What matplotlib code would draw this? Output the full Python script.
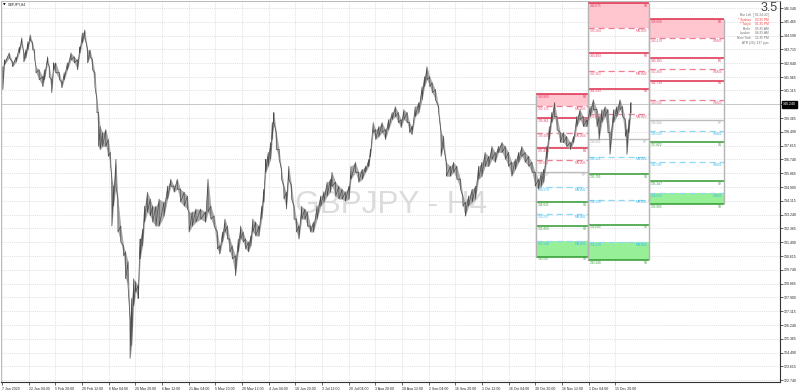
import matplotlib
matplotlib.use("Agg")
import matplotlib.pyplot as plt

# --- price path (H4 bar number, high, low) ---
bars = [2, 6, 18, 26, 35, 43, 49, 54, 59, 64,
        70, 76, 80, 84, 92, 101, 105, 113, 117, 123,
        128, 133, 142, 148, 154, 162, 171, 179, 187, 193,
        199, 205, 212, 218, 224, 230, 235, 239, 243, 249,
        257, 263, 268, 272, 276, 282, 287, 294, 301, 306,
        312, 317, 321, 326, 331, 337, 342, 348, 353, 360,
        367, 373, 381, 389, 401, 410, 418, 426, 434, 442,
        451, 459, 463, 471, 480, 492, 504, 510, 517, 525,
        533, 539, 546, 552, 558, 564, 570, 578, 585, 591,
        597, 603, 610, 616, 621, 628, 636, 643, 648, 653,
        659, 665, 669, 673, 679, 686, 692, 698, 704, 710,
        717, 723, 729, 735, 742, 750, 756, 764, 771, 780,
        789, 797, 805, 813, 817, 826, 834, 842, 850, 859,
        864, 875, 883, 892, 900, 908, 912, 919, 925, 933,
        941, 949, 957, 966, 974, 981, 988, 995, 1003, 1009,
        1015, 1023, 1032, 1040, 1046, 1052, 1059, 1065, 1073, 1081,
        1087, 1093, 1100, 1110, 1118, 1126, 1135, 1141, 1147, 1155,
        1164, 1172, 1180, 1188, 1196, 1205, 1213, 1221, 1229, 1238,
        1246, 1254, 1262, 1271, 1279, 1287, 1295, 1304, 1312, 1320,
        1328, 1335, 1341, 1349, 1355, 1361, 1368, 1374, 1382, 1390,
        1398, 1407, 1415, 1423, 1431, 1439, 1448, 1456, 1464, 1473,
        1478, 1485, 1493, 1500, 1505, 1514, 1522, 1530, 1536, 1543,
        1547, 1552, 1557]

highs = [142.62, 143.06, 143.50, 142.93, 143.25, 143.88, 144.45, 143.50, 143.69, 144.20,
         144.64, 144.13, 143.69, 142.62, 142.43, 141.99, 142.43, 143.25, 142.62, 141.80,
         142.87, 142.87, 142.24, 141.67, 142.24, 142.87, 143.50, 143.25, 143.06, 143.88,
         144.76, 144.95, 143.69, 143.69, 143.06, 142.24, 140.53, 139.72, 138.83, 138.45,
         138.64, 138.01, 137.19, 135.49, 135.05, 136.75, 134.23, 132.52, 131.26, 130.88,
         130.25, 126.65, 127.92, 129.18, 128.99, 128.74, 131.70, 132.33, 133.78, 134.67,
         134.23, 133.78, 133.78, 134.23, 134.04, 135.05, 135.49, 135.05, 135.49, 134.86,
         134.67, 134.42, 133.41, 133.41, 133.60, 133.60, 133.41, 135.49, 133.78, 133.15,
         132.14, 131.26, 132.14, 132.96, 132.52, 131.70, 131.26, 130.63, 131.70, 132.52,
         132.14, 131.70, 131.51, 131.89, 132.96, 132.77, 132.52, 133.78, 134.86, 136.75,
         137.19, 137.82, 139.08, 139.72, 138.45, 137.38, 136.12, 135.05, 134.67, 136.31,
         135.05, 133.78, 132.96, 132.52, 133.78, 133.60, 133.41, 132.52, 132.77, 133.78,
         134.42, 134.67, 135.30, 135.49, 135.93, 135.30, 135.05, 134.86, 134.67, 135.05,
         136.31, 136.56, 135.93, 136.12, 136.31, 136.75, 137.38, 139.08, 138.64, 138.83,
         139.08, 138.64, 139.27, 139.72, 140.09, 139.72, 139.27, 139.90, 139.72, 139.08,
         138.83, 140.09, 140.35, 141.36, 141.99, 142.62, 141.99, 141.61, 141.17, 140.09,
         138.45, 138.20, 136.56, 136.31, 136.56, 136.31, 135.49, 134.42, 134.04, 134.42,
         134.86, 135.05, 136.31, 136.56, 137.19, 136.94, 137.57, 137.19, 137.57, 137.82,
         137.57, 137.19, 136.56, 136.75, 137.19, 137.57, 137.19, 136.94, 136.56, 135.93,
         135.49, 135.93, 136.12, 137.57, 138.83, 139.72, 140.35, 139.46, 138.45, 138.45,
         138.20, 137.82, 138.20, 139.46, 139.90, 139.46, 139.27, 140.09, 140.53, 139.90,
         139.46, 139.90, 140.09, 139.90, 138.45, 139.90, 140.09, 140.53, 140.09, 139.27,
         138.64, 139.27, 140.35]

lows = [141.17, 142.74, 143.19, 142.62, 142.93, 143.50, 144.13, 142.93, 143.19, 143.69,
        144.32, 143.69, 143.25, 142.24, 141.80, 141.36, 141.80, 142.87, 141.99, 140.98,
        142.43, 142.24, 141.80, 141.29, 141.80, 142.43, 143.06, 142.87, 142.43, 143.50,
        144.13, 144.51, 142.87, 143.25, 142.43, 141.36, 139.72, 137.57, 137.38, 137.57,
        137.57, 136.94, 136.56, 132.52, 133.78, 135.05, 132.14, 131.51, 130.63, 129.18,
        128.74, 124.13, 124.95, 127.47, 128.36, 127.92, 130.44, 131.26, 132.77, 133.41,
        133.15, 132.77, 132.52, 132.52, 133.15, 134.23, 135.05, 134.67, 134.86, 134.04,
        133.78, 133.60, 132.14, 132.52, 132.77, 132.96, 132.77, 133.41, 132.96, 132.52,
        131.07, 130.75, 131.51, 132.14, 131.70, 130.88, 130.44, 129.37, 130.88, 131.70,
        131.51, 131.07, 130.88, 131.26, 132.14, 131.89, 131.89, 132.96, 134.04, 135.93,
        136.31, 136.75, 138.01, 139.08, 137.38, 136.75, 135.49, 134.23, 133.60, 135.49,
        134.23, 132.96, 132.14, 131.70, 132.96, 132.96, 132.52, 132.14, 132.14, 132.96,
        133.78, 134.04, 134.42, 134.67, 135.05, 134.42, 134.23, 134.23, 134.10, 134.23,
        135.49, 135.93, 135.30, 135.49, 135.93, 136.31, 136.94, 138.45, 138.01, 138.20,
        138.45, 138.01, 138.64, 139.27, 139.46, 139.08, 138.77, 139.27, 139.08, 138.45,
        138.33, 139.46, 139.72, 140.53, 141.36, 141.80, 141.36, 140.98, 140.53, 139.72,
        136.94, 137.57, 135.68, 135.68, 135.93, 135.49, 134.86, 133.78, 133.15, 133.78,
        134.04, 134.23, 135.49, 135.68, 136.31, 136.31, 136.75, 136.56, 137.19, 137.19,
        136.75, 136.31, 135.68, 136.12, 136.56, 136.94, 136.56, 136.31, 135.93, 135.05,
        134.86, 135.05, 135.30, 136.75, 138.01, 139.08, 139.46, 138.64, 137.82, 137.82,
        137.57, 137.38, 137.82, 138.83, 139.27, 138.83, 138.83, 139.46, 139.90, 138.83,
        138.01, 139.08, 139.46, 138.45, 137.07, 139.08, 139.46, 139.90, 139.46, 138.20,
        137.07, 138.45, 139.72]

bid = 140.240

# --- axes labels ---
x_labels = ["7 Jan 2020", "22 Jan 04:00", "5 Feb 20:00", "20 Feb 12:00", "6 Mar 04:00",
            "20 Mar 20:00", "6 Apr 12:00", "21 Apr 04:00", "5 May 20:00", "20 May 12:00",
            "4 Jun 04:00", "18 Jun 20:00", "3 Jul 12:00", "20 Jul 04:00", "3 Aug 20:00",
            "18 Aug 12:00", "2 Sep 04:00", "16 Sep 20:00", "1 Oct 12:00", "16 Oct 04:00",
            "30 Oct 20:00", "16 Nov 12:00", "1 Dec 04:00", "15 Dec 20:00"]
bars_per_label = 66

y_ticks = [146.340, 145.465, 144.590, 143.715, 142.840, 141.965, 141.115, 140.240,
           139.365, 138.490, 137.615, 136.740, 135.865, 134.990, 134.115, 133.240,
           132.365, 131.490, 130.615, 129.740, 128.865, 127.990, 127.115, 126.240,
           125.365, 124.490, 123.615, 122.740]

# --- pivot boxes: R3, M5, R2, M4, R1, M3, PP, M2, S1, M1, S2, M0, S3 ---
level_kinds = ["R", "MU", "R", "MU", "R", "MU", "PP", "ML", "S", "ML", "S", "ML", "S"]

box_a_span = (1322, 1451)
box_a_levels = [140.889, 140.125, 139.361, 138.408, 137.455, 136.691, 135.927,
                134.974, 134.021, 133.257, 132.493, 131.540, 130.587]
box_a_names = ["R3", "MN1M5", "R2", "MN1M4", "R1", "MN1M3", "PP",
               "MN1M2", "S1", "MN1M1", "S2", "MN1M0", "S3"]

box_b_span = (1451, 1602)
box_b_levels = [146.675, 145.084, 143.493, 142.363, 141.233, 139.642, 138.051,
                136.921, 135.791, 134.200, 132.609, 131.479, 130.349]
box_b_names = ["R3", "MN1M5", "R2", "MN1M4", "R1", "MN1M3", "PP",
               "MN1M2", "S1", "MN1M1", "S2", "MN1M0", "S3"]

box_c_span = (1602, 1787)
box_c_levels = [145.656, 144.419, 143.181, 142.460, 141.739, 140.502, 139.264,
                138.543, 137.822, 136.585, 135.347, 134.626, 133.905]
box_c_names = ["R3", "W1M5", "R2", "W1M4", "R1", "W1M3", "PP",
               "W1M2", "S1", "W1M1", "S2", "W1M0", "S3"]

line_style = {
    "R": dict(color="#dc2a4a", lw=1.1, ls="-"),
    "MU": dict(color="#f07f96", lw=0.9, ls=(0, (5, 3))),
    "PP": dict(color="#bdbdbd", lw=1.0, ls="-"),
    "ML": dict(color="#8fd8f6", lw=0.9, ls=(0, (5, 3))),
    "S": dict(color="#2f9a2f", lw=1.1, ls="-"),
}
text_color = {"R": "#e03a58", "MU": "#e6607c", "PP": "#a8a8a8", "ML": "#3fbcec", "S": "#3d9b3d"}

plt.rcParams["font.family"] = ["Liberation Sans", "DejaVu Sans"]

fig = plt.figure(figsize=(8, 3.9), dpi=100)
ax = fig.add_axes([1 / 800, 8 / 390, 779 / 800, 381 / 390])
ax.set_xlim(-2.5, 1926)
ax.set_ylim(122.63, 146.79)

# watermark
ax.text(391 / 800, 1 - 213 / 390, "GBPJPY - H4", transform=fig.transFigure,
        ha="center", va="baseline", fontsize=22.7, color="#dcdcdc", zorder=0.5)

# bid line
ax.axhline(bid, color="#c8c8c8", lw=0.7, zorder=1)

# price: light band plus a high/low zigzag to mimic the dense bars
zig_x = [b for b in bars for _ in (0, 1)]
zig_y = [v for h, l in zip(highs, lows) for v in (h, l)]
ax.fill_between(bars, lows, highs, color="#aaaaaa", lw=0, zorder=3)
ax.plot(zig_x, zig_y, color="#4a4a4a", lw=0.5, zorder=3.1)


def draw_box(span, levels, names):
    x0, x1 = span
    ax.fill_between([x0, x1], [levels[1]] * 2, [levels[0]] * 2, color="#ffc6d0", lw=0, zorder=2)
    ax.fill_between([x0, x1], [levels[12]] * 2, [levels[11]] * 2, color="#97ef97", lw=0, zorder=2)
    for lvl, name, kind in zip(levels, names, level_kinds):
        ax.hlines(lvl, x0, x1, zorder=2.5, **line_style[kind])
        ax.annotate(f"{lvl:.3f}", xy=(x0, lvl), xytext=(1.2, -0.6), textcoords="offset points",
                    ha="left", va="top", fontsize=2.3, color=text_color[kind], zorder=4)
        ax.annotate(name, xy=(x1, lvl), xytext=(-1.2, -0.6), textcoords="offset points",
                    ha="right", va="top", fontsize=2.3, color=text_color[kind], zorder=4)
    ax.vlines([x0, x1], levels[12], levels[0], color="#b4b4b4", lw=1.0, zorder=2.6)


draw_box(box_a_span, box_a_levels, box_a_names)
draw_box(box_b_span, box_b_levels, box_b_names)
draw_box(box_c_span, box_c_levels, box_c_names)

# axes styling
ax.set_xticks([i * bars_per_label for i in range(len(x_labels))])
ax.set_xticklabels(x_labels, ha="left")
ax.set_yticks(y_ticks)
ax.set_yticklabels([f"{v:.3f}" for v in y_ticks])
ax.yaxis.tick_right()
ax.tick_params(axis="both", labelsize=2.5, length=2, width=0.5, pad=1, colors="#222222")
ax.tick_params(axis="x", pad=1.5)
ax.grid(True, color="#d6d6d6", ls=(0, (1.5, 1.5)), lw=0.5, zorder=0)
ax.set_axisbelow(True)
for side in ["top", "left"]:
    ax.spines[side].set_color("#b0b0b0")
    ax.spines[side].set_linewidth(0.6)
for side in ["right", "bottom"]:
    ax.spines[side].set_color("#333333")
    ax.spines[side].set_linewidth(0.8)

# current price tag
ax.annotate(f"{bid:.3f}", xy=(1, bid), xycoords=("axes fraction", "data"), xytext=(2.2, 0),
            textcoords="offset points", ha="left", va="center", fontsize=2.5, color="white",
            bbox=dict(boxstyle="square,pad=0.35", fc="black", ec="black"), zorder=5)

# symbol caption
fig.text(3 / 800, 1 - 5 / 390, "▼", fontsize=2.5, color="black", va="center", ha="left",
         family="DejaVu Sans")
fig.text(8 / 800, 1 - 5 / 390, "GBPJPY,H4", fontsize=2.4, color="#222222", va="center", ha="left")

# info panel
fig.text(778 / 800, 1 - 8 / 390, "3.5", fontsize=9, color="#444444", ha="right", va="center")
info_names = ["Bar Left", "* Sydney", "* Tokyo", "Berlin", "London", "New York"]
info_values = ["[ 01:24:43 ]", "03:35 PM", "01:35 PM", "05:35 AM", "04:35 AM", "11:35 PM"]
info_colors = ["#707070", "#ff3b3b", "#ff3b3b", "#707070", "#707070", "#707070"]
for i, (n, v, c) in enumerate(zip(info_names, info_values, info_colors)):
    yy = 1 - (15 + i * 4.6) / 390
    fig.text(751 / 800, yy, n, fontsize=2.3, color=c, ha="right", va="center")
    fig.text(769 / 800, yy, v, fontsize=2.3, color=c, ha="right", va="center")
fig.text(769 / 800, 1 - 42.6 / 390, "ATR (20): 137 pips", fontsize=2.3, color="#707070",
         ha="right", va="center")

fig.savefig("out.png", dpi=100, facecolor="white")
